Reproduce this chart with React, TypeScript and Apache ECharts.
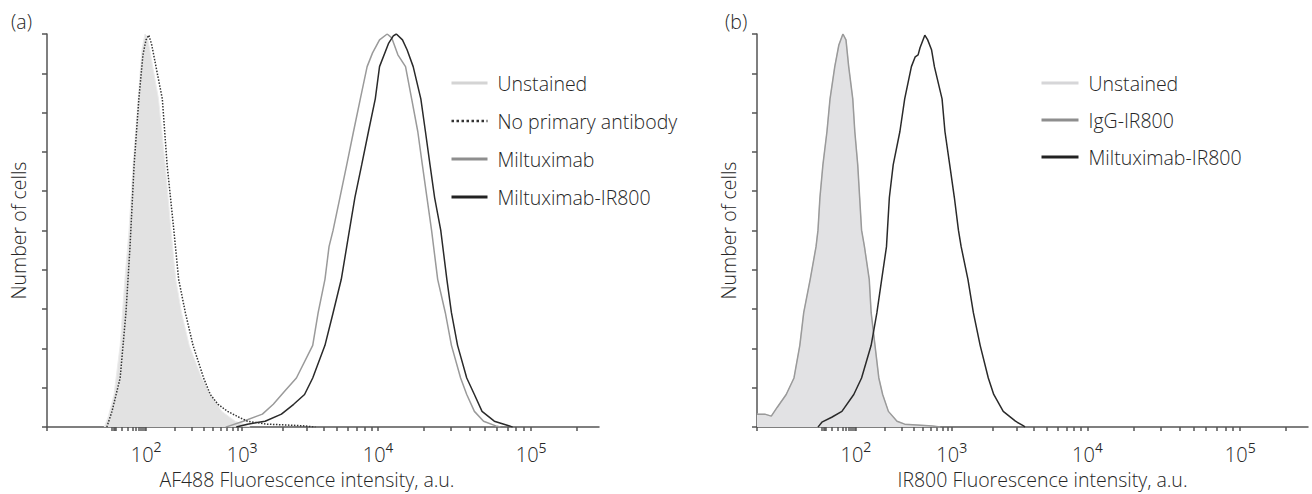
import React, { useEffect, useRef } from "react";
import * as echarts from "echarts";

// ---- x scale (biexponential-like display): knots in log10(intensity) -> display units
const KNOT_LOG = [0, 1, 2, 3, 4, 5, 6];
const KNOT_DISP = [0, 65, 99, 195, 331, 484, 637];
const DISP_MAX = 552;

// ---- tick labels (decades) and minor tick intensities
const DECADES = [2, 3, 4, 5];
const DECADE_BASE = ["10", "10", "10", "10"];
const DECADE_SUP = ["²", "³", "⁴", "⁵"];
const MINOR_TICK_VALUES = [
  10, 11, 12, 13, 20, 30, 40, 50, 60, 70, 80, 90,
  100, 200, 300, 400, 500, 600, 700, 800, 900,
  1000, 2000, 3000, 4000, 5000, 6000, 7000, 8000, 9000,
  10000, 20000, 30000, 40000, 50000, 60000, 70000, 80000, 90000,
  100000, 200000,
];

// ---- panel (a): [log10 intensity, % of max count]
const UNSTAINED_A = [
  [0.88, 0], [0.94, 2.5], [1.06, 8.3], [1.24, 20.8], [1.38, 37.6], [1.5, 50.1], [1.62, 66.7],
  [1.77, 83.5], [1.88, 96], [1.97, 100], [2.01, 99.5], [2.04, 96], [2.07, 91.7], [2.13, 83.5],
  [2.2, 66.7], [2.26, 50.1], [2.31, 37.6], [2.37, 29.1], [2.45, 20.8], [2.58, 12.5], [2.67, 8.3],
  [2.79, 4.0], [2.93, 1.5], [3.06, 0],
];
const NO_PRIMARY_A = [
  [0.92, 0], [1.0, 4], [1.24, 12.5], [1.41, 29.1], [1.53, 45.9], [1.65, 66.7], [1.79, 83.5],
  [1.91, 94.7], [2.0, 98.5], [2.03, 99.7], [2.06, 97.2], [2.1, 92.2], [2.17, 83.5], [2.22, 66.7],
  [2.29, 50.1], [2.34, 37.6], [2.41, 29.1], [2.49, 20.8], [2.6, 12.5], [2.67, 8.3], [2.75, 5.8],
  [2.85, 4.0], [2.97, 2.5], [3.04, 1.5], [3.18, 0.75], [3.35, 0.5], [3.46, 0.3], [3.54, 0],
];
const MILTUXIMAB_A = [
  [2.83, 0], [3.01, 1.5], [3.15, 3.3], [3.23, 5.8], [3.31, 9.0], [3.4, 12.5], [3.52, 20.8],
  [3.56, 29.1], [3.61, 37.6], [3.64, 45.9], [3.67, 50.1], [3.72, 58.4], [3.77, 66.7], [3.82, 75.2],
  [3.87, 83.5], [3.92, 91.7], [3.96, 95.2], [4.01, 98.5], [4.06, 100], [4.09, 99], [4.13, 94.7],
  [4.18, 91.7], [4.22, 83.5], [4.26, 75.2], [4.29, 66.7], [4.32, 58.4], [4.35, 50.1], [4.39, 37.6],
  [4.44, 29.1], [4.48, 20.8], [4.54, 12.5], [4.58, 8.3], [4.63, 4.0], [4.69, 1.5], [4.77, 0.3],
  [4.8, 0],
];
const IR800_A = [
  [2.94, 0], [3.04, 0.75], [3.17, 1.5], [3.29, 3.3], [3.38, 5.8], [3.46, 8.3], [3.52, 12.5],
  [3.61, 20.8], [3.67, 29.1], [3.73, 37.6], [3.77, 45.9], [3.79, 50.1], [3.83, 58.4], [3.88, 66.7],
  [3.93, 75.2], [3.98, 83.5], [4.01, 91.7], [4.07, 97.7], [4.1, 99.5], [4.12, 100], [4.16, 98.5],
  [4.19, 96], [4.23, 91.7], [4.28, 83.5], [4.31, 75.2], [4.34, 66.7], [4.37, 58.4], [4.41, 50.1],
  [4.45, 37.6], [4.48, 29.1], [4.52, 20.8], [4.58, 12.5], [4.63, 8.3], [4.68, 4.0], [4.76, 1.5],
  [4.86, 0.3], [4.88, 0],
];

// ---- panel (b)
const UNSTAINED_B = [
  [0, 3.3], [0.12, 3.3], [0.22, 2.8], [0.31, 5.0], [0.45, 8.3], [0.57, 12.5], [0.66, 20.8],
  [0.72, 29.1], [0.82, 37.6], [0.91, 45.9], [0.94, 50.1], [0.97, 58.4], [1.03, 66.7], [1.15, 75.2],
  [1.24, 83.5], [1.38, 91.7], [1.5, 97.2], [1.62, 100], [1.71, 98.5], [1.79, 91.7], [1.91, 83.5],
  [1.97, 75.2], [2.02, 66.7], [2.04, 58.4], [2.06, 50.1], [2.09, 45.9], [2.14, 37.6], [2.16, 29.1],
  [2.2, 20.8], [2.24, 12.5], [2.28, 8.3], [2.34, 4.0], [2.43, 1.5], [2.51, 0.75], [2.8, 0.3],
  [2.88, 0],
];
const IGG_B = [
  [0, 3.3], [0.12, 3.3], [0.22, 2.8], [0.31, 5.0], [0.45, 8.3], [0.57, 12.5], [0.66, 20.8],
  [0.72, 29.1], [0.82, 37.6], [0.91, 45.9], [0.94, 50.1], [0.97, 58.4], [1.03, 66.7], [1.15, 75.2],
  [1.24, 83.5], [1.38, 91.7], [1.5, 97.2], [1.62, 100], [1.71, 98.5], [1.79, 91.7], [1.91, 83.5],
  [1.97, 75.2], [2.02, 66.7], [2.04, 58.4], [2.06, 50.1], [2.09, 45.9], [2.14, 37.6], [2.16, 29.1],
  [2.2, 20.8], [2.24, 12.5], [2.28, 8.3], [2.34, 4.0], [2.43, 1.5], [2.51, 0.75], [2.8, 0.3],
  [2.88, 0],
];
const IR800_B = [
  [0.94, 0], [1.0, 1.25], [1.29, 2.5], [1.59, 4.0], [1.94, 8.3], [2.06, 12.5], [2.16, 20.8],
  [2.22, 29.1], [2.27, 37.6], [2.32, 45.9], [2.33, 50.1], [2.35, 58.4], [2.39, 66.7], [2.46, 75.2],
  [2.51, 83.5], [2.58, 91.7], [2.62, 94.2], [2.65, 94.7], [2.67, 96.5], [2.72, 99.7], [2.75, 98.5],
  [2.79, 96], [2.82, 91.7], [2.9, 83.5], [2.93, 75.2], [2.98, 66.7], [3.02, 58.4], [3.05, 50.1],
  [3.07, 45.9], [3.12, 37.6], [3.16, 29.1], [3.21, 20.8], [3.27, 12.5], [3.31, 8.3], [3.38, 4.0],
  [3.47, 1.5], [3.53, 0.3], [3.54, 0],
];

const LEGEND_A = ["Unstained", "No primary antibody", "Miltuximab", "Miltuximab-IR800"];
const LEGEND_B = ["Unstained ", "IgG-IR800", "Miltuximab-IR800 "];

function disp(L: number): number {
  for (let i = 0; i < KNOT_LOG.length - 1; i++) {
    if (L <= KNOT_LOG[i + 1] || i === KNOT_LOG.length - 2) {
      const t = (L - KNOT_LOG[i]) / (KNOT_LOG[i + 1] - KNOT_LOG[i]);
      return KNOT_DISP[i] + t * (KNOT_DISP[i + 1] - KNOT_DISP[i]);
    }
  }
  return 0;
}
const toXY = (arr: number[][]) => arr.map(([L, c]) => [disp(L), c]);

const FONT = '"Open Sans", "Noto Sans", sans-serif';
const FS = 19.5;
const TEXT = "#262626";
const AXIS = "#555555";

const App: React.FC = () => {
  const ref = useRef<HTMLDivElement>(null);
  useEffect(() => {
    document.body.style.margin = "0";
    if (!ref.current) return;
    const chart = echarts.init(ref.current, undefined, { renderer: "svg" });

    const tickDisp = [0, ...MINOR_TICK_VALUES.map((v) => disp(Math.log10(v)))];
    const labelDisp = DECADES.map((d) => disp(d));
    const labelFor = (val: number) => {
      const i = labelDisp.findIndex((p) => Math.abs(p - val) < 0.01);
      return i < 0 ? "" : `{b|${DECADE_BASE[i]}}{s|${DECADE_SUP[i]}}`;
    };
    const txt = { fontFamily: FONT, fontSize: FS, color: TEXT, fontWeight: 300 };

    const xAxis = (gridIndex: number, name: string, padding: number[]) => ({
      type: "value",
      gridIndex,
      min: 0,
      max: DISP_MAX,
      name,
      nameLocation: "middle",
      nameGap: 36,
      nameTextStyle: { ...txt, padding },
      axisLine: { show: true, lineStyle: { color: AXIS, width: 1.5 } },
      axisTick: { show: true, length: 4, lineStyle: { color: AXIS, width: 1.5 }, customValues: tickDisp },
      axisLabel: {
        show: true,
        customValues: labelDisp,
        margin: 14,
        formatter: labelFor,
        rich: {
          b: { ...txt, fontSize: 20, lineHeight: 26 },
          s: { ...txt, fontSize: 23, lineHeight: 22, verticalAlign: "top" },
        },
      },
      splitLine: { show: false },
    });
    const yAxis = (gridIndex: number) => ({
      type: "value",
      gridIndex,
      min: 0,
      max: 100,
      interval: 10,
      name: "Number of cells",
      nameLocation: "middle",
      nameGap: 19,
      nameTextStyle: txt,
      axisLine: { show: true, lineStyle: { color: AXIS, width: 1.5 } },
      axisTick: { show: true, length: 5, lineStyle: { color: AXIS, width: 1.5 } },
      axisLabel: { show: false },
      splitLine: { show: false },
    });

    const line = (name: string, data: number[][], idx: number, color: string, width: number, type = "solid", z = 3) => ({
      type: "line",
      name,
      xAxisIndex: idx,
      yAxisIndex: idx,
      data: toXY(data),
      symbol: "none",
      lineStyle: { color, width, type },
      itemStyle: { color },
      z,
    });
    const area = (name: string, data: number[][], idx: number, fill: string, stroke: string) => ({
      type: "line",
      name,
      xAxisIndex: idx,
      yAxisIndex: idx,
      data: toXY(data),
      symbol: "none",
      lineStyle: { color: stroke, width: 1 },
      itemStyle: { color: stroke },
      areaStyle: { color: fill, opacity: 1 },
      z: 1,
    });

    const legendText = { ...txt, padding: [0, 0, 0, 5] };
    const item = (name: string, color: string, width: number, type = "solid") => ({
      name,
      lineStyle: { color, width, type },
      itemStyle: { color, opacity: 0, borderWidth: 0 },
    });

    chart.setOption({
      animation: false,
      backgroundColor: "#ffffff",
      title: [
        { text: "(a)", left: 6, top: 6, textStyle: txt },
        { text: "(b)", left: 720, top: 6, textStyle: txt },
      ],
      grid: [
        { left: 47, right: 713, top: 34, bottom: 61 },
        { left: 757, right: 4, top: 34, bottom: 61 },
      ],
      xAxis: [
        xAxis(0, "AF488 Fluorescence intensity, a.u.", [0, 32, 0, 0]),
        xAxis(1, "IR800 Fluorescence intensity, a.u.", [0, 0, 0, 20]),
      ],
      yAxis: [yAxis(0), yAxis(1)],
      legend: [
        {
          orient: "vertical",
          left: 450,
          top: 73,
          padding: 0,
          itemWidth: 36,
          itemHeight: 14,
          itemGap: 18,
          selectedMode: false,
          textStyle: legendText,
          data: [
            item(LEGEND_A[0], "#d4d4d4", 3),
            item(LEGEND_A[1], "#333333", 2.5, "dotted"),
            item(LEGEND_A[2], "#8e8e8e", 3),
            item(LEGEND_A[3], "#222222", 3),
          ],
        },
        {
          orient: "vertical",
          left: 1040,
          top: 73,
          padding: 0,
          itemWidth: 37,
          itemHeight: 14,
          itemGap: 17,
          selectedMode: false,
          textStyle: legendText,
          data: [
            item(LEGEND_B[0], "#d6d6d8", 3),
            item(LEGEND_B[1], "#8e8e8e", 3),
            item(LEGEND_B[2], "#222222", 3),
          ],
        },
      ],
      series: [
        area(LEGEND_A[0], UNSTAINED_A, 0, "#e2e2e2", "#ececec"),
        line(LEGEND_A[1], NO_PRIMARY_A, 0, "#333333", 1.5, "dotted", 4),
        line(LEGEND_A[2], MILTUXIMAB_A, 0, "#9a9a9a", 1.5),
        line(LEGEND_A[3], IR800_A, 0, "#2a2a2a", 1.5),
        area(LEGEND_B[0], UNSTAINED_B, 1, "#e2e2e4", "#d6d6d8"),
        line(LEGEND_B[1], IGG_B, 1, "#9a9a9a", 1.5),
        line(LEGEND_B[2], IR800_B, 1, "#2a2a2a", 1.5),
      ],
    });
    return () => chart.dispose();
  }, []);
  return <div ref={ref} style={{ width: 1312, height: 494 }} />;
};

export default App;
